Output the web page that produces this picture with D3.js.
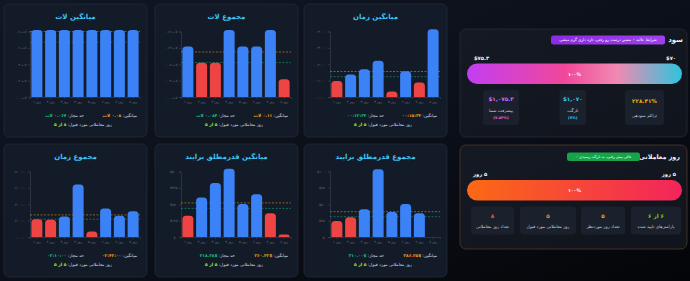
<!DOCTYPE html>
<html>
<head>
<meta charset="utf-8">
<script src="https://cdn.jsdelivr.net/npm/d3@7"></script>
<style>
  body { margin: 0; background: #0a0e16; }
  svg { display: block; font-family: "DejaVu Sans", sans-serif; }
</style>
</head>
<body>
<svg id="dash" width="690" height="281"></svg>
<script>
// ---- data ----
const days = ["روز ۱", "روز ۲", "روز ۳", "روز ۴", "روز ۵", "روز ۶", "روز ۷", "روز ۸"];
const requiredDays = 5;

// lots
const avgLot = [0.08, 0.08, 0.08, 0.08, 0.08, 0.08, 0.08, 0.08];
const avgLotTicks = [0, 0.02, 0.04, 0.06, 0.08];
const avgLotLimit = 0.067;

const sumLot = [0.12, 0.08, 0.08, 0.16, 0.12, 0.12, 0.16, 0.04];
const sumLotTicks = [0, 0.04, 0.08, 0.12, 0.16];
const sumLotLimit = 0.084;

// time, in minutes
const avgTime = [8.8, 12.8, 16, 21.2, 2.4, 14.8, 8, 40.5];
const avgTimeTicks = [0, 10, 20, 30, 40];
const avgTimeLimit = 12.4;

const sumTime = [120, 115, 139, 374, 29, 197, 144, 178];
const sumTimeTicks = [0, 120, 240, 360, 480];
const sumTimeLimit = 130;

// absolute net, dollars
const avgAbsNet = [150, 290, 400, 510, 240, 315, 170, 7.56];
const avgAbsNetTicks = [0, 125, 250, 375, 500];
const avgAbsNetLimit = 218.28;

const sumAbsNet = [220, 280, 400, 1010, 360, 480, 340, 0];
const sumAbsNetTicks = [0, 250, 500, 750, 1000];
const sumAbsNetLimit = 310;

// profit card
const profitNow = 75.3;
const profitTarget = 70;
const profitPct = 100;
const profitStats = [
  { value: "$۱,۰۷۵.۳", label: "پیشرفت شما", sub: "(۷.۵۳%)", color: "#d96cf4" },
  { value: "$۱,۰۷۰", label: "تارگت", sub: "(۷%)", color: "#22d3ee" },
  { value: "۲۲۸.۴۱%", label: "تراکم سودهی", sub: "", color: "#eab308" }
];

// trading-day card
const dayPct = 100;
const dayStats = [
  { value: "۸", label: "تعداد روز معاملاتی", color: "#f25a4a" },
  { value: "۵", label: "روز معاملاتی مورد قبول", color: "#fb8c3c" },
  { value: "۵", label: "تعداد روز موردنظر", color: "#eab308" },
  { value: "۶ از ۶", label: "پارامترهای تایید شده", color: "#84cc16" }
];

// ---- helpers ----
const fa = s => String(s).replace(/\d/g, d => "۰۱۲۳۴۵۶۷۸۹"[d]);
const lotFmt = v => fa(+v.toFixed(3)) + " لات";
const lotTick = v => fa(v.toFixed(2)) + " لات";
const hms = min => {
  const s = Math.round(min * 60);
  return fa([Math.floor(s / 3600), Math.floor(s % 3600 / 60), s % 60]
    .map(v => String(v).padStart(2, "0")).join(":"));
};
const usd = v => "$" + fa(v.toFixed(2));
const usdTick = v => "$" + fa(v);

const svg = d3.select("#dash");
const defs = svg.append("defs");

function grad(id, stops, x2 = "100%", y2 = "0%") {
  const g = defs.append("linearGradient").attr("id", id)
    .attr("x1", "0%").attr("y1", "0%").attr("x2", x2).attr("y2", y2);
  stops.forEach(([o, c]) => g.append("stop").attr("offset", o).attr("stop-color", c));
}
grad("bgGrad", [["0%", "#101725"], ["55%", "#0b0f18"], ["100%", "#040508"]], "100%", "100%");
grad("profitBar", [["0%", "#c23ef2"], ["45%", "#f0479a"], ["70%", "#f08ab2"], ["100%", "#2ec4de"]]);
grad("dayBar", [["0%", "#fb6a14"], ["100%", "#f3245c"]]);
grad("purpleBadge", [["0%", "#8b2be2"], ["100%", "#a13ff0"]]);
grad("cardGrad", [["0%", "#141924"], ["100%", "#10141c"]], "100%", "100%");

svg.append("rect").attr("width", 690).attr("height", 281).attr("fill", "url(#bgGrad)");

function barPath(x, y, w, h, r) {
  r = Math.min(r, h, w / 2);
  return `M${x},${y + h}V${y + r}Q${x},${y} ${x + r},${y}H${x + w - r}Q${x + w},${y} ${x + w},${y + r}V${y + h}Z`;
}

// ---- bar chart panels ----
function drawChart(c) {
  const g = svg.append("g");
  const W = 143, H = 133;
  g.append("rect").attr("x", c.x0).attr("y", c.y0).attr("width", W).attr("height", H)
    .attr("rx", 5).attr("fill", "#141b28").attr("stroke", "#222a39").attr("stroke-width", 0.8);

  g.append("text").attr("x", c.x0 + W / 2).attr("y", c.y0 + 13).attr("dy", "0.35em")
    .attr("text-anchor", "middle").attr("direction", "rtl")
    .attr("fill", "#3cc3f5").attr("font-size", 7).attr("font-weight", "bold").text(c.title);

  const x = d3.scaleBand().domain(days).range([c.x0 + 26, c.x0 + 136])
    .paddingInner(0.2).paddingOuter(0.1);
  const y = d3.scaleLinear().domain([0, d3.max(c.ticks)]).range([c.y0 + 93, c.y0 + 27.5]);

  const ya = g.append("g").attr("transform", `translate(${c.x0 + 26},0)`)
    .call(d3.axisLeft(y).tickValues(c.ticks).tickFormat(c.tick).tickSize(2).tickPadding(1.5));
  const xa = g.append("g").attr("transform", `translate(0,${c.y0 + 93})`)
    .call(d3.axisBottom(x).tickSize(2).tickPadding(1.5));
  [ya, xa].forEach(a => {
    a.selectAll("path,line").attr("stroke", "#3a4353").attr("stroke-width", 0.6);
    a.selectAll("text").attr("fill", "#6b7485").attr("font-size", 3.4)
      .attr("font-family", "DejaVu Sans, sans-serif");
  });
  xa.selectAll("text").attr("direction", "rtl");

  const avg = d3.mean(c.values);
  [[avg, "#d8901a"], [c.limit, "#13a37a"]].forEach(([v, col]) => {
    g.append("line").attr("x1", c.x0 + 26).attr("x2", c.x0 + 136)
      .attr("y1", y(v)).attr("y2", y(v)).attr("stroke", col)
      .attr("stroke-width", 0.6).attr("stroke-dasharray", "2,1.5");
  });

  g.selectAll(".bar").data(c.values.map((v, i) => ({ v, d: days[i] })))
    .join("path")
    .attr("d", d => d.v > 0 ? barPath(x(d.d), y(d.v) - 1.5, x.bandwidth(), y(0) - y(d.v) + 1.5, 3.5) : "")
    .attr("fill", d => d.v >= c.limit ? "#3b82f6" : "#ef4444");

  const f1 = c.y0 + 113, f2 = c.y0 + 122;
  const t1 = g.append("text").attr("x", c.x0 + 133).attr("y", f1).attr("direction", "rtl")
    .attr("text-anchor", "start").attr("font-size", 4.3);
  t1.append("tspan").attr("fill", "#cfd6e2").text("میانگین: ");
  t1.append("tspan").attr("fill", "#f0a020").attr("font-weight", "bold").text(c.fmt(avg));

  const t2 = g.append("text").attr("x", c.x0 + 80).attr("y", f1).attr("direction", "rtl")
    .attr("text-anchor", "start").attr("font-size", 4.3);
  t2.append("tspan").attr("fill", "#cfd6e2").text("حد مجاز: ");
  t2.append("tspan").attr("fill", "#19c38b").attr("font-weight", "bold").text(c.fmt(c.limit));

  const ok = c.values.filter(v => v >= c.limit).length;
  const t3 = g.append("text").attr("x", c.x0 + 79).attr("y", f2).attr("direction", "rtl")
    .attr("text-anchor", "middle").attr("font-size", 4.3);
  t3.append("tspan").attr("fill", "#cfd6e2").text("روز معاملاتی مورد قبول: ");
  t3.append("tspan").attr("fill", "#a3e635").attr("font-weight", "bold")
    .text(fa(ok) + " از " + fa(requiredDays));
}

drawChart({ x0: 4, y0: 4, title: "میانگین لات", values: avgLot, ticks: avgLotTicks, limit: avgLotLimit, tick: lotTick, fmt: lotFmt });
drawChart({ x0: 155, y0: 4, title: "مجموع لات", values: sumLot, ticks: sumLotTicks, limit: sumLotLimit, tick: lotTick, fmt: lotFmt });
drawChart({ x0: 304, y0: 4, title: "میانگین زمان", values: avgTime, ticks: avgTimeTicks, limit: avgTimeLimit, tick: hms, fmt: hms });
drawChart({ x0: 4, y0: 144, title: "مجموع زمان", values: sumTime, ticks: sumTimeTicks, limit: sumTimeLimit, tick: hms, fmt: hms });
drawChart({ x0: 155, y0: 144, title: "میانگین قدرمطلق برایند", values: avgAbsNet, ticks: avgAbsNetTicks, limit: avgAbsNetLimit, tick: usdTick, fmt: usd });
drawChart({ x0: 304, y0: 144, title: "مجموع قدرمطلق برایند", values: sumAbsNet, ticks: sumAbsNetTicks, limit: sumAbsNetLimit, tick: usdTick, fmt: usd });

// ---- profit card ----
const pc = svg.append("g");
pc.append("rect").attr("x", 460).attr("y", 29).attr("width", 227).attr("height", 108)
  .attr("rx", 6).attr("fill", "url(#cardGrad)").attr("stroke", "#262c38").attr("stroke-width", 0.8);
pc.append("text").attr("x", 683).attr("y", 40).attr("dy", "0.35em").attr("direction", "rtl")
  .attr("text-anchor", "start").attr("fill", "#f1f5f9").attr("font-size", 7)
  .attr("font-weight", "bold").text("سود");
pc.append("rect").attr("x", 551).attr("y", 35.5).attr("width", 114).attr("height", 9)
  .attr("rx", 2.5).attr("fill", "url(#purpleBadge)");
const pb = pc.append("text").attr("x", 608).attr("y", 40).attr("dy", "0.35em").attr("direction", "rtl")
  .attr("text-anchor", "middle").attr("font-size", 3.9).attr("fill", "#fff");
pb.append("tspan").text("شرایط عالیه ");
pb.append("tspan").attr("fill", "#fbbf24").text("⚡");
pb.append("tspan").text(" مسیر درست رو رفتی، تازه داری گرم میشی");

const px = d3.scaleLinear().domain([0, 100]).range([467, 682]);
pc.append("text").attr("x", 474).attr("y", 58).attr("dy", "0.35em").attr("fill", "#f1f5f9")
  .attr("font-size", 5.2).attr("font-weight", "bold").text("$" + fa(profitNow));
pc.append("text").attr("x", 676).attr("y", 58).attr("dy", "0.35em").attr("text-anchor", "end")
  .attr("fill", "#f1f5f9").attr("font-size", 5.2).attr("font-weight", "bold").text("$" + fa(profitTarget));
pc.append("rect").attr("x", px(0)).attr("y", 63.5).attr("width", px(profitPct) - px(0)).attr("height", 20.5)
  .attr("rx", 10.25).attr("fill", "url(#profitBar)");
pc.append("text").attr("x", (px(0) + px(100)) / 2).attr("y", 74).attr("dy", "0.35em")
  .attr("text-anchor", "middle").attr("fill", "#fff").attr("font-size", 4.6).attr("font-weight", "bold")
  .text(fa(profitPct) + "%");

const pBoxes = [[483, 36], [559.5, 26.5], [625, 39]];
profitStats.forEach((s, i) => {
  const [bx, bw] = pBoxes[i], cx = bx + bw / 2;
  pc.append("rect").attr("x", bx).attr("y", 90).attr("width", bw).attr("height", 35)
    .attr("rx", 3).attr("fill", "#1a202c");
  const hasSub = s.sub !== "";
  pc.append("text").attr("x", cx).attr("y", hasSub ? 99.5 : 101).attr("dy", "0.35em")
    .attr("text-anchor", "middle").attr("fill", s.color).attr("font-size", 5.6).attr("font-weight", "bold")
    .text(s.value);
  pc.append("text").attr("x", cx).attr("y", hasSub ? 110 : 115).attr("dy", "0.35em").attr("direction", "rtl")
    .attr("text-anchor", "middle").attr("fill", "#c5ccd8").attr("font-size", 4.4).text(s.label);
  if (hasSub) pc.append("text").attr("x", cx).attr("y", 118).attr("dy", "0.35em")
    .attr("text-anchor", "middle").attr("fill", s.color).attr("font-size", 3.8).attr("font-weight", "bold")
    .text(s.sub);
});

// ---- trading-day card ----
const dc = svg.append("g");
dc.append("rect").attr("x", 460).attr("y", 145).attr("width", 227).attr("height", 104)
  .attr("rx", 6).attr("fill", "url(#cardGrad)").attr("stroke", "#4a3424").attr("stroke-width", 0.9);
dc.append("text").attr("x", 680).attr("y", 157).attr("dy", "0.35em").attr("direction", "rtl")
  .attr("text-anchor", "start").attr("fill", "#f1f5f9").attr("font-size", 6.4)
  .attr("font-weight", "bold").text("روز معاملاتی");
dc.append("rect").attr("x", 567).attr("y", 152.5).attr("width", 73).attr("height", 8.5)
  .attr("rx", 2.5).attr("fill", "#16a34a");
const db = dc.append("text").attr("x", 603.5).attr("y", 156.8).attr("dy", "0.35em").attr("direction", "rtl")
  .attr("text-anchor", "middle").attr("font-size", 3.7).attr("fill", "#fff");
db.append("tspan").text("عالی پیش رفتی، به تارگت رسیدی ");
db.append("tspan").attr("fill", "#fb923c").text("⚡");

dc.append("text").attr("x", 473).attr("y", 174).attr("dy", "0.35em").attr("direction", "rtl")
  .attr("text-anchor", "end").attr("fill", "#f1f5f9").attr("font-size", 5.2).attr("font-weight", "bold")
  .text(fa(requiredDays) + " روز");
dc.append("text").attr("x", 676).attr("y", 174).attr("dy", "0.35em").attr("direction", "rtl")
  .attr("text-anchor", "start").attr("fill", "#f1f5f9").attr("font-size", 5.2).attr("font-weight", "bold")
  .text(fa(requiredDays) + " روز");
dc.append("rect").attr("x", px(0)).attr("y", 180).attr("width", px(dayPct) - px(0)).attr("height", 20.5)
  .attr("rx", 10.25).attr("fill", "url(#dayBar)");
dc.append("text").attr("x", (px(0) + px(100)) / 2).attr("y", 190.5).attr("dy", "0.35em")
  .attr("text-anchor", "middle").attr("fill", "#fff").attr("font-size", 4.6).attr("font-weight", "bold")
  .text(fa(dayPct) + "%");

const dBoxes = [[471, 43], [520, 56], [581, 44], [631, 50]];
dayStats.forEach((s, i) => {
  const [bx, bw] = dBoxes[i], cx = bx + bw / 2;
  dc.append("rect").attr("x", bx).attr("y", 206.5).attr("width", bw).attr("height", 28)
    .attr("rx", 3).attr("fill", "#1a202c");
  dc.append("text").attr("x", cx).attr("y", 216).attr("dy", "0.35em").attr("direction", "rtl")
    .attr("text-anchor", "middle").attr("fill", s.color).attr("font-size", 5.6).attr("font-weight", "bold")
    .text(s.value);
  dc.append("text").attr("x", cx).attr("y", 226).attr("dy", "0.35em").attr("direction", "rtl")
    .attr("text-anchor", "middle").attr("fill", "#c5ccd8").attr("font-size", 4.3).text(s.label);
});
</script>
</body>
</html>
